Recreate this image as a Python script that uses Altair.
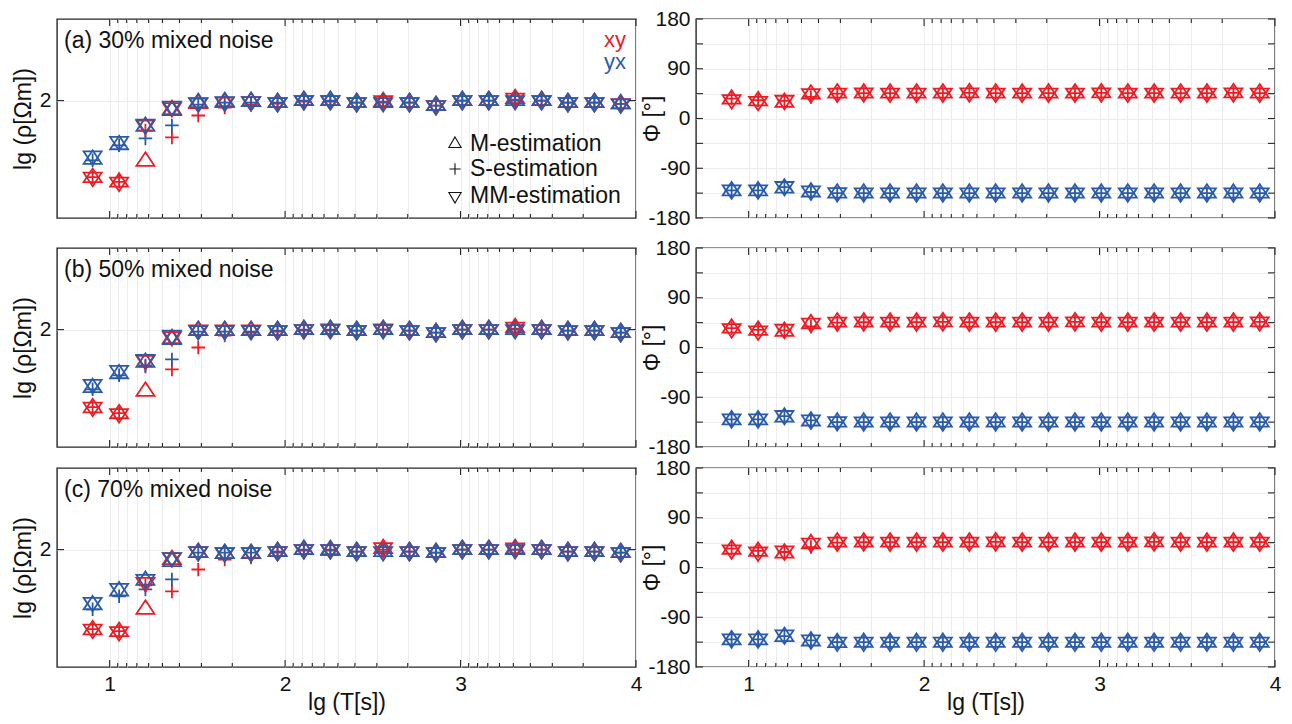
import altair as alt
import pandas as pd

FONT = "Liberation Sans"
RED = "#ec1c24"
BLUE = "#2a5ba9"
TXT = "#111111"
FRAME = "#262626"
GRID = "#ececec"
W, H = 579, 199

# ---------------- data ----------------
lgT = [0.903, 1.054, 1.204, 1.355, 1.505, 1.656, 1.806, 1.957, 2.107, 2.258, 2.408,
       2.559, 2.709, 2.860, 3.010, 3.161, 3.311, 3.462, 3.612, 3.763, 3.913]

# apparent resistivity lg(rho), panel (a) 30%
a_xy_M = [1.613, 1.590, 1.695, 1.955, 1.985, 1.990, 1.995, 1.990, 2.000, 2.000, 1.990, 1.995, 1.990, 1.975, 2.000, 2.000, 2.010, 2.000, 1.990, 1.990, 1.983]
a_xy_S = [1.615, 1.592, 1.850, 1.815, 1.925, 1.965, 1.980, 1.985, 1.995, 1.995, 1.990, 1.995, 1.990, 1.975, 2.000, 2.000, 2.005, 2.000, 1.990, 1.990, 1.983]
a_xy_MM = [1.615, 1.590, 1.877, 1.965, 1.988, 1.992, 1.995, 1.990, 2.000, 2.000, 1.990, 2.000, 1.990, 1.975, 2.000, 2.000, 2.012, 2.000, 1.990, 1.990, 1.985]
a_yx_M = [1.705, 1.778, 1.870, 1.950, 1.990, 1.995, 1.995, 1.990, 2.000, 2.000, 1.990, 1.990, 1.990, 1.975, 2.000, 2.000, 2.000, 2.000, 1.990, 1.990, 1.983]
a_yx_S = [1.700, 1.775, 1.810, 1.875, 1.980, 1.990, 1.990, 1.990, 2.000, 2.000, 1.990, 1.990, 1.990, 1.975, 2.000, 2.000, 2.000, 2.000, 1.990, 1.990, 1.983]
a_yx_MM = [1.722, 1.795, 1.882, 1.972, 1.990, 1.995, 1.995, 1.990, 2.000, 2.000, 1.990, 1.990, 1.990, 1.975, 2.000, 2.000, 2.000, 2.000, 1.990, 1.990, 1.983]

# panel (b) 50%
b_xy_M = [1.607, 1.577, 1.690, 1.955, 1.995, 1.995, 1.995, 1.995, 2.000, 2.000, 1.995, 2.000, 1.995, 1.985, 2.000, 2.000, 2.010, 2.000, 1.995, 1.995, 1.985]
b_xy_S = [1.610, 1.580, 1.820, 1.800, 1.910, 1.970, 1.985, 1.990, 1.995, 1.995, 1.995, 2.000, 1.995, 1.985, 2.000, 2.000, 2.005, 2.000, 1.995, 1.995, 1.985]
b_xy_MM = [1.610, 1.578, 1.845, 1.965, 1.998, 1.998, 1.998, 1.995, 2.000, 2.003, 1.995, 2.003, 1.995, 1.985, 2.000, 2.000, 2.012, 2.000, 1.995, 1.995, 1.985]
b_yx_M = [1.708, 1.778, 1.835, 1.950, 1.995, 1.995, 1.995, 1.995, 2.000, 2.000, 1.995, 2.000, 1.995, 1.985, 2.000, 2.000, 2.000, 2.000, 1.995, 1.995, 1.985]
b_yx_S = [1.700, 1.770, 1.815, 1.850, 1.990, 1.990, 1.990, 1.995, 2.000, 2.000, 1.995, 2.000, 1.995, 1.985, 2.000, 2.000, 2.000, 2.000, 1.995, 1.995, 1.985]
b_yx_MM = [1.725, 1.795, 1.850, 1.972, 1.995, 1.995, 1.995, 1.995, 2.000, 2.000, 1.995, 2.000, 1.995, 1.985, 2.000, 2.000, 2.000, 2.000, 1.995, 1.995, 1.985]

# panel (c) 70%
c_xy_M = [1.597, 1.588, 1.700, 1.950, 1.985, 1.980, 1.980, 1.990, 2.000, 1.995, 1.990, 2.005, 1.990, 1.985, 2.000, 2.000, 2.005, 2.000, 1.990, 1.990, 1.985]
c_xy_S = [1.600, 1.590, 1.820, 1.790, 1.900, 1.950, 1.960, 1.985, 1.995, 1.995, 1.990, 2.000, 1.990, 1.985, 2.000, 2.000, 2.000, 2.000, 1.990, 1.990, 1.985]
c_xy_MM = [1.600, 1.588, 1.835, 1.960, 1.990, 1.985, 1.985, 1.990, 2.000, 2.000, 1.990, 2.010, 1.990, 1.985, 2.000, 2.000, 2.008, 2.000, 1.990, 1.990, 1.985]
c_yx_M = [1.722, 1.792, 1.845, 1.940, 1.985, 1.980, 1.980, 1.990, 2.000, 2.000, 1.990, 1.990, 1.990, 1.985, 2.000, 2.000, 2.000, 2.000, 1.990, 1.990, 1.985]
c_yx_S = [1.700, 1.765, 1.800, 1.850, 1.985, 1.985, 1.985, 1.990, 2.000, 2.000, 1.990, 1.990, 1.990, 1.985, 2.000, 2.000, 2.000, 2.000, 1.990, 1.990, 1.985]
c_yx_MM = [1.735, 1.805, 1.850, 1.960, 1.990, 1.985, 1.985, 1.990, 2.000, 2.000, 1.990, 1.990, 1.990, 1.985, 2.000, 2.000, 2.000, 2.000, 1.990, 1.990, 1.985]

# phase (degrees)
a_pxy_M = [35, 32, 29, 44, 46, 46, 46, 46, 46, 46.5, 46, 46, 46, 46, 46.5, 46, 46, 46, 46, 46.5, 46]
a_pxy_S = [36, 33, 32, 39, 45, 46, 46, 46, 46, 46.5, 46, 46, 46, 46, 46.5, 46, 46, 46, 46, 46.5, 46]
a_pxy_MM = [34, 31, 33, 45, 46, 46.5, 46, 46, 46, 46.5, 46, 46, 46, 46, 46.5, 46, 46, 46, 46, 46.5, 46]
a_pyx_M = [-131, -131, -126, -133, -135, -135, -135, -135, -135, -135, -135, -135, -135, -135, -135, -135, -135, -135, -135, -135, -135]
a_pyx_S = [-130, -130, -124, -133, -135, -135, -135, -135, -135, -135, -135, -135, -135, -135, -135, -135, -135, -135, -135, -135, -135]
a_pyx_MM = [-129, -129, -123, -131, -134, -134.5, -134.5, -134.5, -134.5, -134.5, -134.5, -134.5, -134.5, -134.5, -134.5, -134.5, -134.5, -134.5, -134.5, -134.5, -134.5]

b_pxy_M = [35, 31, 29, 43, 46, 46, 46, 46, 46.5, 46, 46, 46, 46, 46.5, 46, 46, 46, 46, 46, 46, 46.5]
b_pxy_S = [35, 32, 31, 38, 45, 46, 46, 46, 46.5, 46, 46, 46, 46, 46.5, 46, 46, 46, 46, 46, 46, 46.5]
b_pxy_MM = [34, 30, 33, 44, 46, 46.5, 46, 46, 46.5, 46, 46, 46, 46, 46.5, 46, 46, 46, 46, 46, 46, 46.5]
b_pyx_M = [-131, -131, -126, -133, -135, -135, -135, -135, -135, -135, -135, -135, -135, -135, -135, -135, -135, -135, -135, -135, -135]
b_pyx_S = [-130, -130, -124, -132, -135, -135, -135, -135, -135, -135, -135, -135, -135, -135, -135, -135, -135, -135, -135, -135, -135]
b_pyx_MM = [-129, -129, -123, -131, -134, -134.5, -134.5, -134.5, -134.5, -134.5, -134.5, -134.5, -134.5, -134.5, -134.5, -134.5, -134.5, -134.5, -134.5, -134.5, -134.5]

c_pxy_M = [33, 29, 26, 43, 46, 46, 46, 46, 46, 46, 46.5, 46, 46, 46, 46, 46, 46.5, 46, 46, 46, 46]
c_pxy_S = [34, 30, 28, 37, 45, 46, 46, 46, 46, 46, 46.5, 46, 46, 46, 46, 46, 46.5, 46, 46, 46, 46]
c_pxy_MM = [32, 28, 30, 44, 46, 46.5, 46, 46, 46, 46, 46.5, 46, 46, 46, 46, 46, 46.5, 46, 46, 46, 46]
c_pyx_M = [-131, -131, -125, -133, -136, -135.5, -135.5, -135.5, -135.5, -135.5, -135.5, -135.5, -135.5, -135.5, -135.5, -135.5, -135.5, -135.5, -135.5, -135.5, -135.5]
c_pyx_S = [-130, -130, -124, -132, -135, -135, -135, -135, -135, -135, -135, -135, -135, -135, -135, -135, -135, -135, -135, -135, -135]
c_pyx_MM = [-129, -129, -122, -131, -135, -135, -135, -135, -135, -135, -135, -135, -135, -135, -135, -135, -135, -135, -135, -135, -135]

# axis tick positions / labels
major_x = [1, 2, 3, 4]
minor_x = [1.046, 1.097, 1.155, 1.222, 1.301, 1.398, 1.523, 1.699,
           2.046, 2.097, 2.155, 2.222, 2.301, 2.398, 2.523, 2.699,
           3.046, 3.097, 3.155, 3.222, 3.301, 3.398, 3.523, 3.699]
rho_ticks = [2]
phi_ticks = [-180, -135, -90, -45, 0, 45, 90, 135, 180]

panel_titles = ["(a) 30% mixed noise", "(b) 50% mixed noise", "(c) 70% mixed noise"]
comp_labels = ["xy", "yx"]
estimators = ["M", "S", "MM"]
legend_labels = ["M-estimation", "S-estimation", "MM-estimation"]
x_title = "lg (T[s])"
rho_title = "lg (ρ[Ωm])"
phi_title = "Φ [°]"

# centroid-centred triangles -> overlaid they form a hexagram
SHAPES = {"M": "M0,-1L1,0.5L-1,0.5Z",
          "S": "M-0.75,0H0.75M0,-0.75V0.75",
          "MM": "M0,1L1,-0.5L-1,-0.5Z"}
LEGEND_SHAPES = {"M": "M0,-1L0.866,0.5L-0.866,0.5Z",
                 "S": "M-0.8,0H0.8M0,-0.8V0.8",
                 "MM": "M0,1L0.866,-0.5L-0.866,-0.5Z"}


def long_df(xy, yx):
    rows = []
    for comp, group in (("xy", xy), ("yx", yx)):
        for est, vals in zip(estimators, group):
            for t, v in zip(lgT, vals):
                rows.append({"lgT": t, "v": v, "comp": comp, "est": est})
    return pd.DataFrame(rows)


def panel(df, kind, bottom, title_text=None, legend=False):
    xscale = alt.Scale(domain=[0.7, 4.0], nice=False, zero=False)
    xaxis = alt.Axis(values=major_x + minor_x, grid=True, gridColor=GRID, gridWidth=1,
                     ticks=False, domain=False, labels=bottom,
                     labelExpr="datum.value % 1 === 0 ? '' + datum.value : ''",
                     labelFlush=False, labelOverlap=False, labelFont=FONT, labelFontSize=21,
                     labelColor=TXT, labelPadding=6,
                     title=x_title if bottom else "", titleFont=FONT, titleFontSize=23,
                     titleFontWeight="normal", titleColor=TXT, titlePadding=-3)
    if kind == "rho":
        ydom, yvals, ytitle, tx = [1.41, 2.41], rho_ticks, rho_title, -34
        lexpr = "datum.value === 2 ? '2' : ''"
    else:
        ydom, yvals, ytitle, tx = [-180, 180], phi_ticks, phi_title, -44
        lexpr = "datum.value % 90 === 0 ? '' + datum.value : ''"
    yaxis = alt.Axis(values=yvals, grid=True, gridColor=GRID, gridWidth=1, ticks=False,
                     domain=False, labelExpr=lexpr, labelOverlap=False, labelFlush=False,
                     labelFont=FONT, labelFontSize=21, labelColor=TXT, labelPadding=6,
                     title=ytitle, titleFont=FONT, titleFontSize=23, titleFontWeight="normal",
                     titleColor=TXT, titleX=tx, titleY=H / 2, titleAngle=270,
                     titleAlign="center", titleBaseline="middle")
    X = alt.X("lgT:Q", scale=xscale, axis=xaxis)
    Y = alt.Y("v:Q", scale=alt.Scale(domain=ydom, nice=False, zero=False), axis=yaxis)
    color = alt.Color("comp:N", scale=alt.Scale(domain=comp_labels, range=[RED, BLUE]), legend=None)

    layers = []
    base = alt.Chart(df)
    for est in estimators:
        layers.append(
            base.transform_filter(alt.datum.est == est)
            .mark_point(shape=SHAPES[est], filled=False, size=324, strokeWidth=1.8, opacity=1)
            .encode(x=X, y=Y, color=color)
        )
    # inward ticks
    for vals, ln in ((major_x, 7), (minor_x, 4)):
        c = alt.Chart(pd.DataFrame({"lgT": vals}))
        layers.append(c.mark_rule(color=FRAME, strokeWidth=1.1).encode(x=X, y=alt.value(0), y2=alt.value(ln)))
        layers.append(c.mark_rule(color=FRAME, strokeWidth=1.1).encode(x=X, y=alt.value(H), y2=alt.value(H - ln)))
    cy = alt.Chart(pd.DataFrame({"v": yvals}))
    layers.append(cy.mark_rule(color=FRAME, strokeWidth=1.1).encode(y=Y, x=alt.value(0), x2=alt.value(7)))
    layers.append(cy.mark_rule(color=FRAME, strokeWidth=1.1).encode(y=Y, x=alt.value(W), x2=alt.value(W - 7)))

    if title_text is not None:
        layers.append(
            alt.Chart(pd.DataFrame({"t": [title_text]}))
            .mark_text(align="left", baseline="middle", font=FONT, fontSize=23, color=TXT)
            .encode(text="t:N", x=alt.value(7), y=alt.value(22))
        )
    if legend:
        for lab, col, yy in ((comp_labels[0], RED, 21), (comp_labels[1], BLUE, 43)):
            layers.append(
                alt.Chart(pd.DataFrame({"t": [lab]}))
                .mark_text(align="right", baseline="middle", font=FONT, fontSize=22, color=col)
                .encode(text="t:N", x=alt.value(569), y=alt.value(yy))
            )
        for est, lab, yy in zip(estimators, legend_labels, (125, 150, 177)):
            layers.append(
                alt.Chart(pd.DataFrame({"t": [lab]}))
                .mark_point(shape=LEGEND_SHAPES[est], filled=False, size=200, strokeWidth=1.1,
                            color=TXT, opacity=1)
                .encode(x=alt.value(398), y=alt.value(yy))
            )
            layers.append(
                alt.Chart(pd.DataFrame({"t": [lab]}))
                .mark_text(align="left", baseline="middle", font=FONT, fontSize=23, color=TXT)
                .encode(text="t:N", x=alt.value(413), y=alt.value(yy))
            )
    return alt.layer(*layers).properties(width=W, height=H)


def row(rxy, ryx, pxy, pyx, title, bottom, legend=False):
    left = panel(long_df(rxy, ryx), "rho", bottom, title, legend)
    right = panel(long_df(pxy, pyx), "phi", bottom)
    return alt.hconcat(left, right, spacing=60, bounds="flush")


row_a = row((a_xy_M, a_xy_S, a_xy_MM), (a_yx_M, a_yx_S, a_yx_MM),
            (a_pxy_M, a_pxy_S, a_pxy_MM), (a_pyx_M, a_pyx_S, a_pyx_MM),
            panel_titles[0], False, legend=True)
row_b = row((b_xy_M, b_xy_S, b_xy_MM), (b_yx_M, b_yx_S, b_yx_MM),
            (b_pxy_M, b_pxy_S, b_pxy_MM), (b_pyx_M, b_pyx_S, b_pyx_MM),
            panel_titles[1], False)
row_c = row((c_xy_M, c_xy_S, c_xy_MM), (c_yx_M, c_yx_S, c_yx_MM),
            (c_pxy_M, c_pxy_S, c_pxy_MM), (c_pyx_M, c_pyx_S, c_pyx_MM),
            panel_titles[2], True)

chart = (
    alt.vconcat(row_a, alt.vconcat(row_b, row_c, spacing=-2), spacing=7)
    .properties(padding={"left": 11, "top": 7, "right": 0, "bottom": 0}, background="white")
    .configure_view(stroke=FRAME, strokeWidth=1.4)
)

chart.save("out.html", embed_options={"renderer": "svg", "actions": False})
